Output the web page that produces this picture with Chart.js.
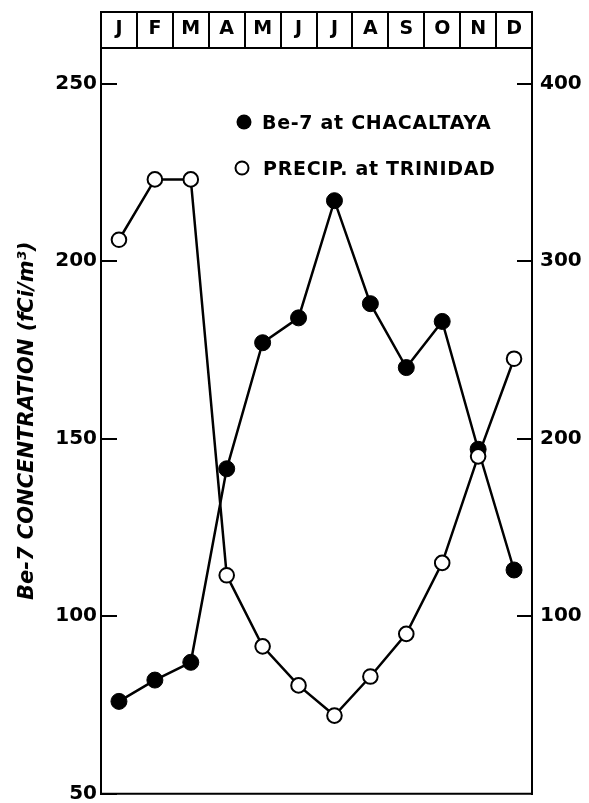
<!DOCTYPE html>
<html><head><meta charset="utf-8">
<script src="https://cdn.jsdelivr.net/npm/chart.js@4"></script>
<style>html,body{margin:0;padding:0;background:#fff;}#wrap{width:589px;height:803px;}</style>
</head><body><div id="wrap"><canvas id="c" width="589" height="803"></canvas></div>
<script>
const months = ['J','F','M','A','M','J','J','A','S','O','N','D'];
const be7 = [76, 82, 87, 141.5, 177, 184, 217, 188, 170, 183, 147, 113];
const precip = [312, 346, 346, 123, 83, 61, 44, 66, 90, 130, 190, 245];
const leftTicks = [50, 100, 150, 200, 250];
const rightTicks = [100, 200, 300, 400];
const legendLabels = ['Be-7 at CHACALTAYA', 'PRECIP. at TRINIDAD'];
const yTitle = 'Be-7 CONCENTRATION (fCi/m\u00B3)';

const FONT = 'DejaVu Sans';

const framePlugin = {
  id: 'frame',
  afterDraw(chart) {
    const a = chart.chartArea, ctx = chart.ctx;
    ctx.save();
    ctx.strokeStyle = '#000';
    ctx.lineWidth = 2;
    ctx.beginPath();
    ctx.moveTo(a.left - 1, a.top - 36);
    ctx.lineTo(a.right + 1, a.top - 36);
    ctx.moveTo(a.left - 1, a.bottom);
    ctx.lineTo(a.right + 1, a.bottom);
    ctx.stroke();
    ctx.restore();
  }
};

const legendPlugin = {
  id: 'inlegend',
  afterDraw(chart) {
    const a = chart.chartArea, ctx = chart.ctx;
    ctx.save();
    ctx.font = 'bold 19px "' + FONT + '"';
    if ('letterSpacing' in ctx) ctx.letterSpacing = '0.7px';
    ctx.textBaseline = 'alphabetic';
    ctx.textAlign = 'left';
    ctx.fillStyle = '#000';
    ctx.strokeStyle = '#000';
    ctx.beginPath();
    ctx.arc(a.left + 143, a.top + 74, 7.5, 0, Math.PI * 2);
    ctx.fill();
    ctx.fillText(legendLabels[0], a.left + 161, a.top + 80.5);
    ctx.beginPath();
    ctx.lineWidth = 2;
    ctx.arc(a.left + 141, a.top + 120, 6.5, 0, Math.PI * 2);
    ctx.fillStyle = '#fff';
    ctx.fill();
    ctx.stroke();
    ctx.fillStyle = '#000';
    ctx.fillText(legendLabels[1], a.left + 162, a.top + 127);
    ctx.restore();
  }
};

function noVPad(s) { s.paddingTop = 0; s.paddingBottom = 0; }

new Chart(document.getElementById('c'), {
  type: 'line',
  data: {
    labels: months,
    datasets: [
      {
        label: legendLabels[0],
        data: be7,
        yAxisID: 'y',
        borderColor: '#000',
        borderWidth: 2.5,
        pointRadius: 8,
        pointBackgroundColor: '#000',
        pointBorderColor: '#000',
        pointBorderWidth: 1,
        tension: 0,
        order: 2
      },
      {
        label: legendLabels[1],
        data: precip,
        yAxisID: 'y1',
        borderColor: '#000',
        borderWidth: 2.5,
        pointRadius: 7.3,
        pointBackgroundColor: '#fff',
        pointBorderColor: '#000',
        pointBorderWidth: 2,
        tension: 0,
        order: 1
      }
    ]
  },
  options: {
    responsive: false,
    animation: false,
    devicePixelRatio: 1,
    layout: { padding: { top: 0, bottom: 6, left: 0, right: 0 } },
    plugins: { legend: { display: false }, tooltip: { enabled: false } },
    scales: {
      x: {
        type: 'category',
        position: 'top',
        offset: true,
        grid: { offset: true, drawOnChartArea: false, tickLength: 36, color: '#000', lineWidth: 2 },
        border: { display: true, color: '#000', width: 2 },
        ticks: { padding: -28, autoSkip: false, maxRotation: 0, color: '#000', font: { family: FONT, weight: 'bold', size: 19 } },
        afterFit(s) { s.height = 48; s.paddingLeft = 0; s.paddingRight = 0; }
      },
      y: {
        type: 'linear',
        position: 'left',
        min: 50,
        max: 260,
        afterBuildTicks(s) { s.ticks = leftTicks.map(v => ({ value: v })); },
        grid: { drawOnChartArea: false, tickLength: -16, color: '#000', lineWidth: 2 },
        border: { display: true, color: '#000', width: 2 },
        ticks: { padding: 20, color: '#000', font: { family: FONT, weight: 'bold', size: 20 } },
        title: { display: true, text: yTitle, color: '#000', padding: { top: 15, bottom: 0 }, font: { family: FONT, weight: 'bold', style: 'italic', size: 21 } },
        afterFit(s) { s.width = 101; noVPad(s); }
      },
      y1: {
        type: 'linear',
        position: 'right',
        min: 0,
        max: 420,
        afterBuildTicks(s) { s.ticks = rightTicks.map(v => ({ value: v })); },
        grid: { drawOnChartArea: false, tickLength: -15, color: '#000', lineWidth: 2 },
        border: { display: true, color: '#000', width: 2 },
        ticks: { padding: 23, color: '#000', font: { family: FONT, weight: 'bold', size: 20 } },
        afterFit(s) { s.width = 57; noVPad(s); }
      }
    }
  },
  plugins: [framePlugin, legendPlugin]
});
</script>
</body></html>
